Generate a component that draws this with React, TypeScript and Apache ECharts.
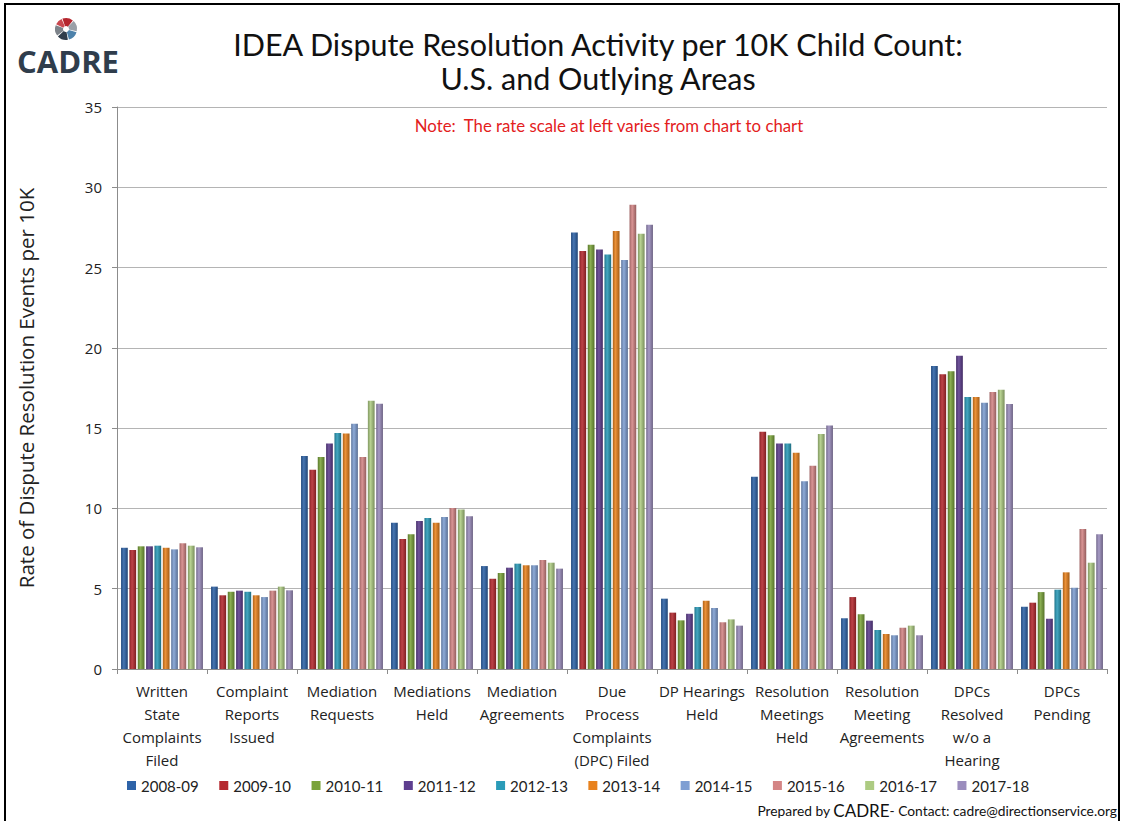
import React, { useEffect, useRef } from "react";
import * as echarts from "echarts";

const categories = [
  "Written\nState\nComplaints\nFiled",
  "Complaint\nReports\nIssued",
  "Mediation\nRequests",
  "Mediations\nHeld",
  "Mediation\nAgreements",
  "Due\nProcess\nComplaints\n(DPC) Filed",
  "DP Hearings\nHeld",
  "Resolution\nMeetings\nHeld",
  "Resolution\nMeeting\nAgreements",
  "DPCs\nResolved\nw/o a\nHearing",
  "DPCs\nPending",
];

const years = ["2008-09", "2009-10", "2010-11", "2011-12", "2012-13", "2013-14", "2014-15", "2015-16", "2016-17", "2017-18"];

const yearColors = ["#2e63a8", "#b5292f", "#7aa33a", "#5e3e8f", "#2a9bb8", "#e8821e", "#7f9fd3", "#d48585", "#adcb82", "#9b8dbd"];

const v2008 = [7.55, 5.13, 13.26, 9.11, 6.41, 27.19, 4.38, 11.97, 3.16, 18.87, 3.88];
const v2009 = [7.41, 4.59, 12.41, 8.09, 5.62, 26.03, 3.51, 14.78, 4.48, 18.35, 4.13];
const v2010 = [7.64, 4.81, 13.2, 8.39, 5.98, 26.42, 3.03, 14.55, 3.41, 18.54, 4.79];
const v2011 = [7.64, 4.88, 14.05, 9.22, 6.31, 26.13, 3.44, 14.05, 3.01, 19.51, 3.13];
const v2012 = [7.68, 4.81, 14.69, 9.4, 6.56, 25.82, 3.86, 14.05, 2.43, 16.94, 4.94];
const v2013 = [7.55, 4.59, 14.67, 9.11, 6.46, 27.27, 4.25, 13.47, 2.18, 16.94, 6.02];
const v2014 = [7.45, 4.48, 15.27, 9.46, 6.46, 25.47, 3.8, 11.69, 2.1, 16.58, 5.06];
const v2015 = [7.83, 4.88, 13.2, 10.02, 6.79, 28.91, 2.91, 12.66, 2.57, 17.25, 8.72];
const v2016 = [7.68, 5.13, 16.71, 9.94, 6.62, 27.1, 3.09, 14.63, 2.7, 17.39, 6.62];
const v2017 = [7.58, 4.9, 16.52, 9.51, 6.25, 27.67, 2.7, 15.17, 2.1, 16.5, 8.39];

const seriesValues = [v2008, v2009, v2010, v2011, v2012, v2013, v2014, v2015, v2016, v2017];

const yTicks = { min: 0, max: 35, interval: 5 };

function shade(hex: string, amt: number): string {
  const n = parseInt(hex.slice(1), 16);
  let r = (n >> 16) & 255, g = (n >> 8) & 255, b = n & 255;
  if (amt >= 0) {
    r = Math.round(r + (255 - r) * amt);
    g = Math.round(g + (255 - g) * amt);
    b = Math.round(b + (255 - b) * amt);
  } else {
    r = Math.round(r * (1 + amt));
    g = Math.round(g * (1 + amt));
    b = Math.round(b * (1 + amt));
  }
  return "#" + ((1 << 24) + (r << 16) + (g << 8) + b).toString(16).slice(1);
}

export default function App() {
  const ref = useRef<HTMLDivElement>(null);
  useEffect(() => {
    if (!ref.current) return;
    const chart = echarts.init(ref.current, undefined, { renderer: "svg" });
    const series = years.map((y, i) => ({
      name: y,
      type: "bar",
      data: seriesValues[i],
      barGap: "24%",
      barCategoryGap: "9%",
      itemStyle: {
        color: new echarts.graphic.LinearGradient(0, 0, 1, 0, [
          { offset: 0, color: shade(yearColors[i], -0.25) },
          { offset: 0.4, color: shade(yearColors[i], 0.12) },
          { offset: 1, color: shade(yearColors[i], -0.3) },
        ]),
      },
    }));
    const option = {
      animation: false,
      backgroundColor: "#ffffff",
      textStyle: { fontFamily: "Open Sans" },
      grid: { left: 117, right: 17, top: 107, bottom: 152, containLabel: false },
      legend: {
        data: years.map((y, i) => ({ name: y, itemStyle: { color: yearColors[i] } })),
        left: 122,
        top: 773,
        icon: "rect",
        itemWidth: 9,
        itemHeight: 9,
        itemGap: 20.5,
        textStyle: { fontFamily: "Lato", fontSize: 15, color: "#222" },
      },
      xAxis: {
        type: "category",
        data: categories,
        axisLine: { lineStyle: { color: "#8c8c8c" } },
        axisTick: { show: true, length: 5, lineStyle: { color: "#8c8c8c" } },
        axisLabel: {
          interval: 0,
          margin: 10,
          fontFamily: "Open Sans",
          fontSize: 15,
          lineHeight: 23,
          color: "#222",
        },
      },
      yAxis: {
        type: "value",
        min: yTicks.min,
        max: yTicks.max,
        interval: yTicks.interval,
        name: "Rate of Dispute Resolution Events per 10K",
        nameLocation: "middle",
        nameGap: 81,
        nameRotate: 90,
        nameTextStyle: { fontFamily: "Open Sans", fontSize: 20.5, color: "#222" },
        axisLine: { show: true, lineStyle: { color: "#8c8c8c" } },
        axisTick: { show: true, length: 5, lineStyle: { color: "#8c8c8c" } },
        axisLabel: { margin: 15, fontFamily: "Open Sans", fontSize: 15, color: "#222" },
        splitLine: { lineStyle: { color: "#b4b4b4", width: 1 } },
      },
      series,
      graphic: [
        {
          type: "rect",
          shape: { x: 5, y: 4, width: 1114, height: 840 },
          style: { fill: "none", stroke: "#000", lineWidth: 2 },
          silent: true,
        },
        {
          type: "text",
          x: 598,
          y: 44,
          style: {
            text: "IDEA Dispute Resolution Activity per 10K Child Count:",
            fontFamily: "Lato",
            fontSize: 30.5,
            fill: "#111",
            textAlign: "center",
            textVerticalAlign: "middle",
          },
        },
        {
          type: "text",
          x: 598,
          y: 78,
          style: {
            text: "U.S. and Outlying Areas",
            fontFamily: "Lato",
            fontSize: 30.5,
            fill: "#111",
            textAlign: "center",
            textVerticalAlign: "middle",
          },
        },
        {
          type: "text",
          x: 609,
          y: 125,
          style: {
            text: "Note:  The rate scale at left varies from chart to chart",
            fontFamily: "Lato",
            fontSize: 16.8,
            fill: "#e3201c",
            textAlign: "center",
            textVerticalAlign: "middle",
          },
        },
        {
          type: "text",
          x: 1117,
          y: 810,
          style: {
            text: "{a|Prepared by }{b|CADRE}{a|- Contact: cadre@directionservice.org}",
            textAlign: "right",
            textVerticalAlign: "middle",
            rich: {
              a: { fontFamily: "Lato", fontSize: 13.8, fill: "#111" },
              b: { fontFamily: "Lato", fontSize: 17, fill: "#111" },
            },
          },
        },
        {
          type: "text",
          x: 68,
          y: 61,
          style: {
            text: "CADRE",
            fontFamily: "Open Sans",
            fontWeight: "bold",
            fontSize: 31,
            fill: "#2f3d4c",
            textAlign: "center",
            textVerticalAlign: "middle",
          },
        },
        {
          type: "group",
          x: 66,
          y: 29,
          children: [
            { type: "sector", shape: { cx: 0, cy: 0, r0: 3, r: 11, startAngle: -1.9, endAngle: -0.9 }, style: { fill: "#b5262e" } },
            { type: "sector", shape: { cx: 0, cy: 0, r0: 3, r: 11, startAngle: -0.8, endAngle: 0.2 }, style: { fill: "#9aa0a8" } },
            { type: "sector", shape: { cx: 0, cy: 0, r0: 3, r: 11, startAngle: 0.3, endAngle: 1.3 }, style: { fill: "#4d82ab" } },
            { type: "sector", shape: { cx: 0, cy: 0, r0: 3, r: 11, startAngle: 1.4, endAngle: 2.4 }, style: { fill: "#2f3d4c" } },
            { type: "sector", shape: { cx: 0, cy: 0, r0: 3, r: 11, startAngle: 2.5, endAngle: 3.5 }, style: { fill: "#7d838a" } },
            { type: "sector", shape: { cx: 0, cy: 0, r0: 3, r: 11, startAngle: 3.6, endAngle: 4.3 }, style: { fill: "#c9484f" } },
          ],
        },
      ],
    };
    chart.setOption(option as any);
    return () => chart.dispose();
  }, []);
  return (
    <div
      ref={ref}
      style={{ position: "fixed", left: 0, top: 0, width: 1124, height: 821, background: "#fff" }}
    />
  );
}
